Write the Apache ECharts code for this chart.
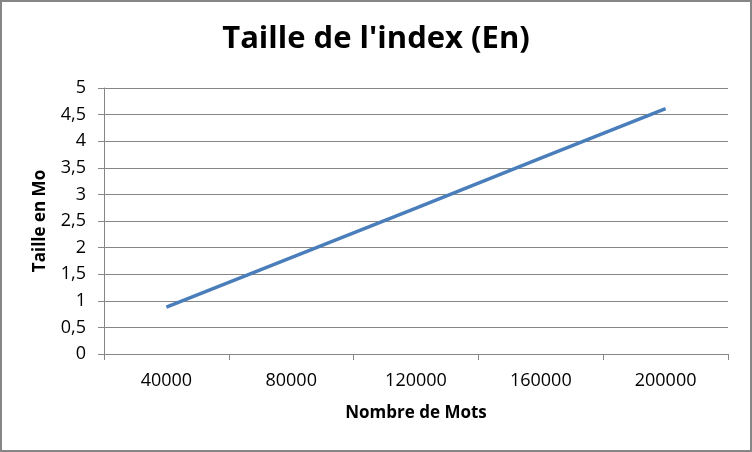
<!DOCTYPE html>
<html>
<head>
<meta charset="utf-8">
<script src="https://cdn.jsdelivr.net/npm/echarts@6/dist/echarts.min.js"></script>
<style>
html,body{margin:0;padding:0;background:#fff;}
#c{width:752px;height:452px;}
</style>
</head>
<body>
<div id="c"></div>
<script>
const categories = ['40000', '80000', '120000', '160000', '200000'];
const sizeMo = [0.88, 1.81, 2.74, 3.68, 4.61];
const chartTitle = "Taille de l'index (En)";
const xTitle = 'Nombre de Mots';
const yTitle = 'Taille en Mo';

const FONT = '"Open Sans", Lato, sans-serif';
const chart = echarts.init(document.getElementById('c'), null, {renderer: 'canvas'});
chart.setOption({
  animation: false,
  backgroundColor: '#fff',
  title: {
    text: chartTitle,
    left: 'center',
    top: 19,
    textStyle: {fontFamily: FONT, fontWeight: 'bold', fontSize: 31, color: '#000'}
  },
  graphic: [{
    type: 'rect',
    shape: {x: 1, y: 1, width: 750, height: 450},
    style: {fill: 'none', stroke: '#868686', lineWidth: 2},
    silent: true
  }],
  grid: {left: 104, right: 24, top: 88, bottom: 98, containLabel: false},
  xAxis: {
    type: 'category',
    data: categories,
    boundaryGap: true,
    name: xTitle,
    nameLocation: 'middle',
    nameGap: 51,
    nameTextStyle: {fontFamily: FONT, fontWeight: 'bold', fontSize: 17, color: '#000'},
    axisLine: {lineStyle: {color: '#868686', width: 1}},
    axisTick: {show: true, alignWithLabel: false, length: 6, lineStyle: {color: '#868686'}},
    axisLabel: {fontFamily: FONT, fontSize: 18, color: '#000', margin: 18},
    splitLine: {show: false}
  },
  yAxis: {
    type: 'value',
    min: 0,
    max: 5,
    interval: 0.5,
    name: yTitle,
    nameLocation: 'middle',
    nameGap: 55,
    nameRotate: 90,
    nameTextStyle: {fontFamily: FONT, fontWeight: 'bold', fontSize: 17, color: '#000'},
    axisLine: {show: true, lineStyle: {color: '#868686', width: 1}},
    axisTick: {show: true, length: 6, lineStyle: {color: '#868686'}},
    axisLabel: {
      fontFamily: FONT, fontSize: 18, color: '#000', margin: 18,
      formatter: v => String(v).replace('.', ',')
    },
    splitLine: {show: true, lineStyle: {color: '#868686', width: 1}}
  },
  series: [{
    type: 'line',
    data: sizeMo,
    symbol: 'none',
    lineStyle: {color: '#4a7ebb', width: 3.5},
    itemStyle: {color: '#4a7ebb'}
  }]
});
</script>
</body>
</html>
